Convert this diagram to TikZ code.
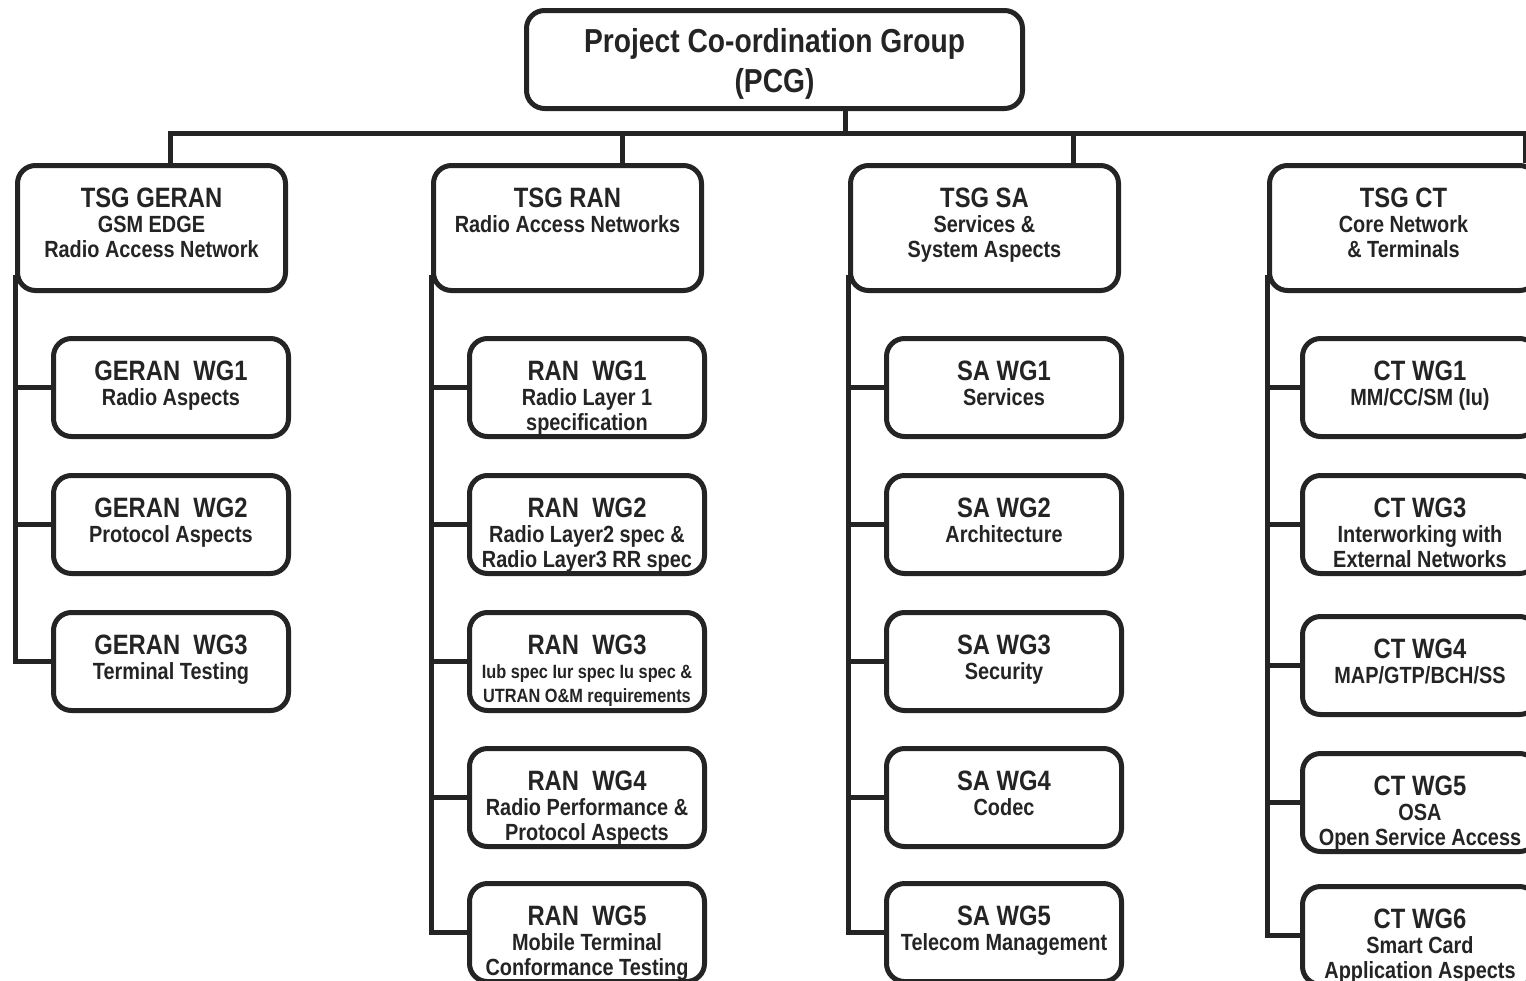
\documentclass[tikz,border=0pt]{standalone}
\usepackage{fontspec}
\setmainfont{Liberation Sans}[FakeStretch=0.85]
\definecolor{ink}{HTML}{242424}
\newcommand{\pcgfnt}{\fontsize{16.6}{20}\selectfont\bfseries}
\newcommand{\ttlfnt}{\fontsize{14}{12.5}\selectfont\bfseries}
\newcommand{\subfnt}{\fontsize{11.7}{12.5}\selectfont\bfseries}
\newcommand{\smlfnt}{\fontsize{9.6}{12}\selectfont\bfseries}
% text hung from the top of a box: height, width, title, lines
\newcommand{\boxtext}[4]{\parbox[c][#1][t]{#2}{\centering\subfnt\rule{0pt}{21pt}{\ttlfnt #3}\\#4}}
\newcommand{\tsg}[2]{\boxtext{62.5pt}{134pt}{#1}{#2}}
\newcommand{\wg}[2]{\boxtext{49pt}{117.5pt}{#1}{#2}}

\begin{document}
\begin{tikzpicture}[x=0.5pt,y=-0.5pt]
  \tikzset{grp/.style={draw=ink,text=ink,line width=2.5pt,rounded corners=9pt,inner sep=0pt,fill=white,anchor=north west},
           wire/.style={draw=ink,line width=2.5pt}}
  \useasboundingbox (0,0) rectangle (1526,980);
  \clip (0,0) rectangle (1526,980);
  \fill[white] (0,0) rectangle (1526,980);

  \node[grp] (pcg) at (524,8) {\parbox[c][49pt][t]{248pt}{\centering\pcgfnt\rule{0pt}{21pt}Project Co-ordination Group\\(PCG)}};

  % technical specification groups
  \node[grp] (geran) at (15,163)   {\tsg{TSG GERAN}{GSM EDGE\\Radio Access Network}};
  \node[grp] (ran)   at (431,163)  {\tsg{TSG RAN}{Radio Access Networks}};
  \node[grp] (sa)    at (848,163)  {\tsg{TSG SA}{Services \&\\System Aspects}};
  \node[grp] (ct)    at (1267,163) {\tsg{TSG CT}{Core Network\\\& Terminals}};

  % working groups
  \node[grp] (g1) at (51,336) {\wg{GERAN~ WG1}{Radio Aspects}};
  \node[grp] (g2) at (51,473) {\wg{GERAN~ WG2}{Protocol Aspects}};
  \node[grp] (g3) at (51,610) {\wg{GERAN~ WG3}{Terminal Testing}};

  \node[grp] (r1) at (467,336) {\wg{RAN~ WG1}{Radio Layer 1\\specification}};
  \node[grp] (r2) at (467,473) {\wg{RAN~ WG2}{Radio Layer2 spec \&\\Radio Layer3 RR spec}};
  \node[grp] (r3) at (467,610) {\wg{RAN~ WG3}{\smlfnt Iub spec Iur spec Iu spec \&\\UTRAN O\&M requirements}};
  \node[grp] (r4) at (467,746) {\wg{RAN~ WG4}{Radio Performance \&\\Protocol Aspects}};
  \node[grp] (r5) at (467,881) {\wg{RAN~ WG5}{Mobile Terminal\\Conformance Testing}};

  \node[grp] (s1) at (884,336) {\wg{SA WG1}{Services}};
  \node[grp] (s2) at (884,473) {\wg{SA WG2}{Architecture}};
  \node[grp] (s3) at (884,610) {\wg{SA WG3}{Security}};
  \node[grp] (s4) at (884,746) {\wg{SA WG4}{Codec}};
  \node[grp] (s5) at (884,881) {\wg{SA WG5}{Telecom Management}};

  \node[grp] (c1) at (1300,336) {\wg{CT WG1}{MM/CC/SM (Iu)}};
  \node[grp] (c3) at (1300,473) {\wg{CT WG3}{Interworking with\\External Networks}};
  \node[grp] (c4) at (1300,614) {\wg{CT WG4}{MAP/GTP/BCH/SS}};
  \node[grp] (c5) at (1300,751) {\wg{CT WG5}{OSA\\Open Service Access}};
  \node[grp] (c6) at (1300,884) {\wg{CT WG6}{Smart Card\\Application Aspects}};

  % bus under the PCG
  \coordinate (b0) at (170,133);
  \coordinate (b1) at (622,133);
  \coordinate (b2) at (845,133);
  \coordinate (b3) at (1073,133);
  \coordinate (b4) at (1525,133);
  \draw[wire] (geran.north -| b0) -- (b0) -- (b4) -- (ct.north -| b4);
  \draw[wire] (pcg.south -| b2) -- (b2);
  \draw[wire] (b1) -- (ran.north -| b1);
  \draw[wire] (b3) -- (sa.north -| b3);

  % spines down the left of each column
  \draw[wire] ([yshift=9pt]geran.south west) |- (g3.west);
  \draw[wire] (g1.west -| geran.west) -- (g1.west);
  \draw[wire] (g2.west -| geran.west) -- (g2.west);

  \draw[wire] ([yshift=9pt]ran.south west) |- (r5.west);
  \draw[wire] (r1.west -| ran.west) -- (r1.west);
  \draw[wire] (r2.west -| ran.west) -- (r2.west);
  \draw[wire] (r3.west -| ran.west) -- (r3.west);
  \draw[wire] (r4.west -| ran.west) -- (r4.west);

  \draw[wire] ([yshift=9pt]sa.south west) |- (s5.west);
  \draw[wire] (s1.west -| sa.west) -- (s1.west);
  \draw[wire] (s2.west -| sa.west) -- (s2.west);
  \draw[wire] (s3.west -| sa.west) -- (s3.west);
  \draw[wire] (s4.west -| sa.west) -- (s4.west);

  \draw[wire] ([yshift=9pt]ct.south west) |- (c6.west);
  \draw[wire] (c1.west -| ct.west) -- (c1.west);
  \draw[wire] (c3.west -| ct.west) -- (c3.west);
  \draw[wire] (c4.west -| ct.west) -- (c4.west);
  \draw[wire] (c5.west -| ct.west) -- (c5.west);
\end{tikzpicture}
\end{document}
